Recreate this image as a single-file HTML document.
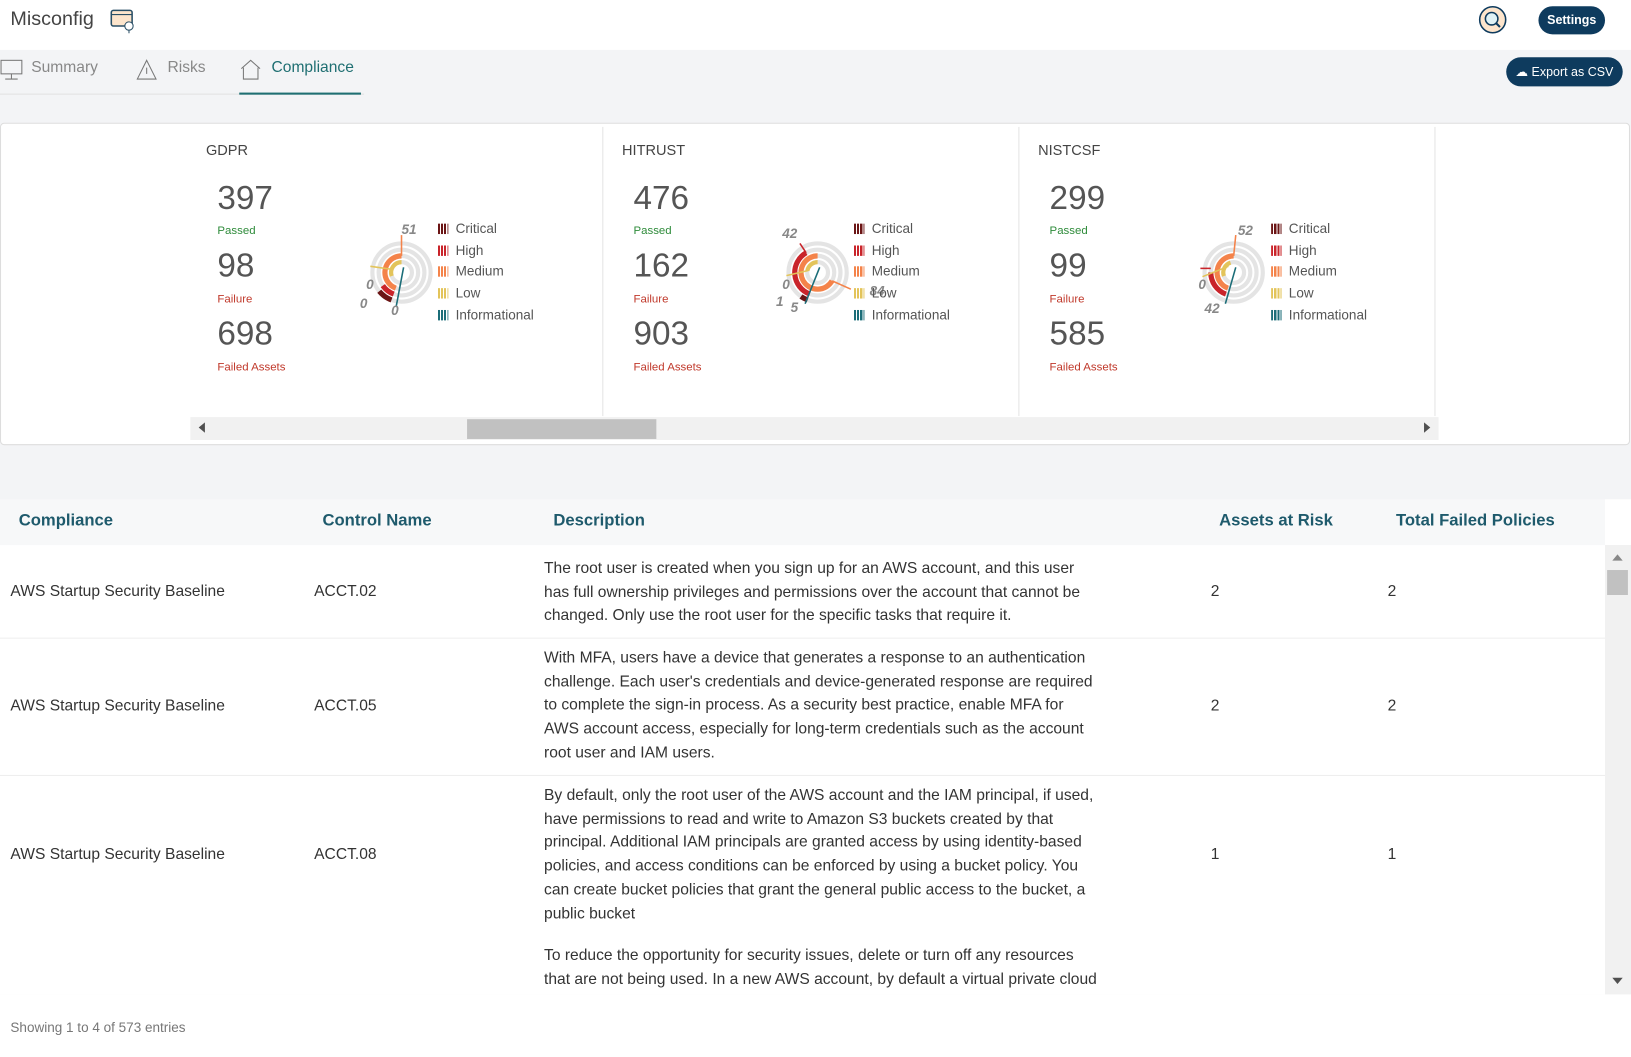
<!DOCTYPE html>
<html><head><meta charset="utf-8">
<style>
*{box-sizing:border-box;margin:0;padding:0}
html,body{width:1631px;height:1055px;overflow:hidden;background:#fff;font-family:"Liberation Sans",sans-serif;color:#333}
#w{position:absolute;left:0;top:0;width:1568px;height:1015px;transform:scale(1.0402);transform-origin:0 0;background:#f3f4f6}
.a{position:absolute;white-space:nowrap}
.hdr{position:absolute;left:0;top:0;width:1568px;height:48px;background:#fff}
.btn{position:absolute;background:#0e3b5e;color:#fff;font-weight:bold;border-radius:14px;font-size:12px;text-align:center}
.tab{position:absolute;top:56px;font-size:15px;color:#888}
.card{position:absolute;left:0;top:118px;width:1567px;height:310px;background:#fff;border:1px solid #ddd;border-radius:4px}
.big{position:absolute;font-size:32px;color:#555}
.sm{position:absolute;font-size:11px}
.leg{position:absolute;font-size:13px;color:#555}
.sw{display:inline-block;width:10px;height:10px;margin-right:7px;vertical-align:-1px}
.th{position:absolute;top:492px;font-size:16px;font-weight:bold;color:#1e5a6c}
.td{position:absolute;font-size:15px;color:#333;line-height:22.7px}
.desc{position:absolute;left:523px;width:532px;font-size:15px;line-height:22.7px;color:#333}
</style></head><body><div id="w">
<div class="hdr"></div>
<div class="a" style="left:10px;top:8px;font-size:19px;color:#444">Misconfig</div>
<svg class="a" style="left:106px;top:9px" width="26" height="24"><rect x="1" y="1" width="20" height="15" rx="2" fill="#fde5cc" stroke="#2a4f66" stroke-width="1.5"/><line x1="1" y1="5" x2="21" y2="5" stroke="#2a4f66"/><circle cx="18" cy="16" r="4" fill="#fff" stroke="#2a4f66"/><line x1="18" y1="20" x2="18" y2="23" stroke="#2a4f66"/></svg>
<svg class="a" style="left:1421px;top:5px" width="28" height="28"><circle cx="14" cy="14" r="12.5" fill="#fde5cc" stroke="#0e3b5e" stroke-width="1.5"/><circle cx="13" cy="13" r="6" fill="#e0f2f5" stroke="#0e3b5e" stroke-width="1.5"/><line x1="17" y1="17" x2="21" y2="21" stroke="#0e3b5e" stroke-width="2"/></svg>
<div class="btn" style="left:1479px;top:6px;width:64px;height:27px;line-height:27px">Settings</div>
<div class="btn" style="left:1448px;top:55px;width:112px;height:28px;line-height:28px;font-weight:normal">☁ Export as CSV</div>
<div class="a" style="left:0;top:90px;width:350px;height:1px;background:#e2e2e2"></div>
<svg class="a" style="left:0;top:57px" width="22" height="20"><rect x="1" y="1" width="20" height="13" fill="none" stroke="#777"/><line x1="11" y1="14" x2="11" y2="19" stroke="#777"/><line x1="5" y1="19" x2="17" y2="19" stroke="#777"/></svg>
<div class="tab" style="left:30px">Summary</div>
<svg class="a" style="left:131px;top:56px" width="20" height="22"><path d="M10 2 L19 20 L1 20 Z" fill="none" stroke="#777"/><line x1="10" y1="9" x2="10" y2="15" stroke="#777"/></svg>
<div class="tab" style="left:161px">Risks</div>
<svg class="a" style="left:230px;top:56px" width="22" height="22"><path d="M2 10 L11 2 L20 10 M4 9 V20 H18 V9" fill="none" stroke="#777"/></svg>
<div class="tab" style="left:261px;color:#1f6f72">Compliance</div>
<div class="a" style="left:230px;top:89px;width:117px;height:2px;background:#1f6f72"></div>

<div class="card"></div>
<div class="a" style="left:579px;top:122px;width:1px;height:278px;background:#e4e4e4"></div>
<div class="a" style="left:979px;top:122px;width:1px;height:278px;background:#e4e4e4"></div>
<div class="a" style="left:1379px;top:122px;width:1px;height:278px;background:#e4e4e4"></div>

<div class="a" style="left:198px;top:136px;font-size:14px;color:#444">GDPR</div>
<div class="big" style="left:209px;top:172px">397</div><div class="sm" style="left:209px;top:216px;color:#2e8b3a">Passed</div>
<div class="big" style="left:209px;top:237px">98</div><div class="sm" style="left:209px;top:282px;color:#c0392b">Failure</div>
<div class="big" style="left:209px;top:302px">698</div><div class="sm" style="left:209px;top:347px;color:#c0392b">Failed Assets</div>
<div class="a" style="left:598px;top:136px;font-size:14px;color:#444">HITRUST</div>
<div class="big" style="left:609px;top:172px">476</div><div class="sm" style="left:609px;top:216px;color:#2e8b3a">Passed</div>
<div class="big" style="left:609px;top:237px">162</div><div class="sm" style="left:609px;top:282px;color:#c0392b">Failure</div>
<div class="big" style="left:609px;top:302px">903</div><div class="sm" style="left:609px;top:347px;color:#c0392b">Failed Assets</div>
<div class="a" style="left:998px;top:136px;font-size:14px;color:#444">NISTCSF</div>
<div class="big" style="left:1009px;top:172px">299</div><div class="sm" style="left:1009px;top:216px;color:#2e8b3a">Passed</div>
<div class="big" style="left:1009px;top:237px">99</div><div class="sm" style="left:1009px;top:282px;color:#c0392b">Failure</div>
<div class="big" style="left:1009px;top:302px">585</div><div class="sm" style="left:1009px;top:347px;color:#c0392b">Failed Assets</div>

<svg class="a" style="left:0;top:0" width="1568" height="430" font-family="Liberation Sans" font-style="italic" font-weight="bold" font-size="13" fill="#888">
<g transform="translate(386,262)" fill="none">
<circle r="10" stroke="#e4e4e4" stroke-width="4"/><circle r="16" stroke="#e4e4e4" stroke-width="4"/><circle r="22" stroke="#e4e4e4" stroke-width="4"/><circle r="28" stroke="#e4e4e4" stroke-width="4"/>
<path d="M-5.5,15 A16,16 0 0 1 0,-16" stroke="#f4834a" stroke-width="5"/>
<path d="M-9.4,3.4 A10,10 0 0 1 0,-10" stroke="#e3c45a" stroke-width="4"/>
<path d="M-7.5,20.7 A22,22 0 0 1 -18,12.6" stroke="#c9242a" stroke-width="5"/>
<path d="M-9.6,26.3 A28,28 0 0 1 -21.4,18" stroke="#6b1515" stroke-width="5"/>
<line x1="0" y1="-16" x2="0" y2="-36" stroke="#f4834a" stroke-width="1.5"/>
<line x1="-9" y1="-3" x2="-30" y2="-6" stroke="#e3c45a" stroke-width="1.5"/>
<line x1="2" y1="-5" x2="-5" y2="32" stroke="#1b6d78" stroke-width="1.5"/>
<text x="0" y="-37" stroke="none" fill="#888">51</text><text x="-34" y="16" stroke="none" fill="#888">0</text><text x="-40" y="34" stroke="none" fill="#888">0</text><text x="-10" y="41" stroke="none" fill="#888">0</text>
</g>
<g transform="translate(786,262)" fill="none">
<circle r="10" stroke="#e4e4e4" stroke-width="4"/><circle r="16" stroke="#e4e4e4" stroke-width="4"/><circle r="22" stroke="#e4e4e4" stroke-width="4"/><circle r="28" stroke="#e4e4e4" stroke-width="4"/>
<path d="M13.9,8 A16,16 0 1 1 0,-16" stroke="#f4834a" stroke-width="5"/>
<path d="M-7.5,20.7 A22,22 0 0 1 -11,-19" stroke="#c9242a" stroke-width="5"/>
<path d="M-9.8,-1.7 A10,10 0 0 1 0,-10" stroke="#e3c45a" stroke-width="4"/>
<path d="M-9.6,26.3 A28,28 0 0 1 -16,23" stroke="#6b1515" stroke-width="5"/>
<line x1="14" y1="8" x2="32" y2="16" stroke="#f4834a" stroke-width="1.5"/>
<line x1="-11" y1="-19" x2="-17" y2="-28" stroke="#c9242a" stroke-width="1.5"/>
<line x1="-9" y1="-2" x2="-30" y2="3" stroke="#e3c45a" stroke-width="1.5"/>
<line x1="2" y1="-5" x2="-12" y2="30" stroke="#1b6d78" stroke-width="1.5"/>
<text x="-34" y="-33" stroke="none" fill="#888">42</text><text x="-34" y="16" stroke="none" fill="#888">0</text><text x="-40" y="32" stroke="none" fill="#888">1</text><text x="-26" y="38" stroke="none" fill="#888">5</text><text x="50" y="22" stroke="none" fill="#888">84</text>
</g>
<g transform="translate(1186,262)" fill="none">
<circle r="10" stroke="#e4e4e4" stroke-width="4"/><circle r="16" stroke="#e4e4e4" stroke-width="4"/><circle r="22" stroke="#e4e4e4" stroke-width="4"/><circle r="28" stroke="#e4e4e4" stroke-width="4"/>
<path d="M-5.5,15 A16,16 0 0 1 0,-16" stroke="#f4834a" stroke-width="5"/>
<path d="M-7.5,20.7 A22,22 0 0 1 -22,0" stroke="#c9242a" stroke-width="5"/>
<path d="M-9.4,3.4 A10,10 0 0 1 -3,-9.5" stroke="#e3c45a" stroke-width="4"/>
<line x1="0" y1="-16" x2="2" y2="-36" stroke="#f4834a" stroke-width="1.5"/>
<line x1="-22" y1="-4" x2="-32" y2="-4" stroke="#c9242a" stroke-width="1.5"/>
<line x1="-5" y1="-6" x2="-30" y2="4" stroke="#e3c45a" stroke-width="1.5"/>
<line x1="2" y1="-5" x2="-8" y2="30" stroke="#1b6d78" stroke-width="1.5"/>
<text x="4" y="-36" stroke="none" fill="#888">52</text><text x="-34" y="16" stroke="none" fill="#888">0</text><text x="-28" y="39" stroke="none" fill="#888">42</text>
</g>
</svg>
<div class="leg" style="left:421px;top:210px;line-height:20.7px"><div><span class="sw" style="background:repeating-linear-gradient(90deg,#6b1515 0 2px,#fff 2px 3px)"></span>Critical</div><div><span class="sw" style="background:repeating-linear-gradient(90deg,#c9242a 0 2px,#fff 2px 3px)"></span>High</div><div><span class="sw" style="background:repeating-linear-gradient(90deg,#f4834a 0 2px,#fff 2px 3px)"></span>Medium</div><div><span class="sw" style="background:repeating-linear-gradient(90deg,#e3c45a 0 2px,#fff 2px 3px)"></span>Low</div><div><span class="sw" style="background:repeating-linear-gradient(90deg,#1b6d78 0 2px,#fff 2px 3px)"></span>Informational</div></div>
<div class="leg" style="left:821px;top:210px;line-height:20.7px"><div><span class="sw" style="background:repeating-linear-gradient(90deg,#6b1515 0 2px,#fff 2px 3px)"></span>Critical</div><div><span class="sw" style="background:repeating-linear-gradient(90deg,#c9242a 0 2px,#fff 2px 3px)"></span>High</div><div><span class="sw" style="background:repeating-linear-gradient(90deg,#f4834a 0 2px,#fff 2px 3px)"></span>Medium</div><div><span class="sw" style="background:repeating-linear-gradient(90deg,#e3c45a 0 2px,#fff 2px 3px)"></span>Low</div><div><span class="sw" style="background:repeating-linear-gradient(90deg,#1b6d78 0 2px,#fff 2px 3px)"></span>Informational</div></div>
<div class="leg" style="left:1222px;top:210px;line-height:20.7px"><div><span class="sw" style="background:repeating-linear-gradient(90deg,#6b1515 0 2px,#fff 2px 3px)"></span>Critical</div><div><span class="sw" style="background:repeating-linear-gradient(90deg,#c9242a 0 2px,#fff 2px 3px)"></span>High</div><div><span class="sw" style="background:repeating-linear-gradient(90deg,#f4834a 0 2px,#fff 2px 3px)"></span>Medium</div><div><span class="sw" style="background:repeating-linear-gradient(90deg,#e3c45a 0 2px,#fff 2px 3px)"></span>Low</div><div><span class="sw" style="background:repeating-linear-gradient(90deg,#1b6d78 0 2px,#fff 2px 3px)"></span>Informational</div></div>

<div class="a" style="left:183px;top:401px;width:1200px;height:22px;background:#f1f1f1"></div>
<div class="a" style="left:449px;top:403px;width:182px;height:19px;background:#c1c1c1"></div>
<div class="a" style="left:191px;top:406px;width:0;height:0;border-top:5px solid transparent;border-bottom:5px solid transparent;border-right:6px solid #505050"></div>
<div class="a" style="left:1369px;top:406px;width:0;height:0;border-top:5px solid transparent;border-bottom:5px solid transparent;border-left:6px solid #505050"></div>

<div class="a" style="left:0;top:480px;width:1543px;height:45px;background:#f7f8f9"></div>
<div class="a" style="left:0;top:524px;width:1543px;height:432px;background:#fff"></div>
<div class="a" style="left:1543px;top:480px;width:25px;height:44px;background:#fff"></div>
<div class="th" style="left:18px">Compliance</div>
<div class="th" style="left:310px">Control Name</div>
<div class="th" style="left:532px">Description</div>
<div class="th" style="left:1172px">Assets at Risk</div>
<div class="th" style="left:1342px">Total Failed Policies</div>
<div class="a" style="left:0;top:613px;width:1543px;height:1px;background:#eee"></div>
<div class="a" style="left:0;top:745px;width:1543px;height:1px;background:#eee"></div>

<div class="td" style="left:10px;top:558px">AWS Startup Security Baseline</div><div class="td" style="left:302px;top:558px">ACCT.02</div>
<div class="desc" style="top:536px">The root user is created when you sign up for an AWS account, and this user has full ownership privileges and permissions over the account that cannot be changed. Only use the root user for the specific tasks that require it.</div>
<div class="td" style="left:1164px;top:558px">2</div><div class="td" style="left:1334px;top:558px">2</div>

<div class="td" style="left:10px;top:668px">AWS Startup Security Baseline</div><div class="td" style="left:302px;top:668px">ACCT.05</div>
<div class="desc" style="top:622px">With MFA, users have a device that generates a response to an authentication challenge. Each user's credentials and device-generated response are required to complete the sign-in process. As a security best practice, enable MFA for AWS account access, especially for long-term credentials such as the account root user and IAM users.</div>
<div class="td" style="left:1164px;top:668px">2</div><div class="td" style="left:1334px;top:668px">2</div>

<div class="td" style="left:10px;top:811px">AWS Startup Security Baseline</div><div class="td" style="left:302px;top:811px">ACCT.08</div>
<div class="desc" style="top:754px">By default, only the root user of the AWS account and the IAM principal, if used, have permissions to read and write to Amazon S3 buckets created by that principal. Additional IAM principals are granted access by using identity-based policies, and access conditions can be enforced by using a bucket policy. You can create bucket policies that grant the general public access to the bucket, a public bucket</div>
<div class="td" style="left:1164px;top:811px">1</div><div class="td" style="left:1334px;top:811px">1</div>

<div class="desc" style="top:908px;height:47px;overflow:hidden">To reduce the opportunity for security issues, delete or turn off any resources that are not being used. In a new AWS account, by default a virtual private cloud is created.</div>

<div class="a" style="left:1543px;top:524px;width:25px;height:432px;background:#f1f1f1"></div>
<div class="a" style="left:1545px;top:548px;width:20px;height:24px;background:#c1c1c1"></div>
<div class="a" style="left:1550px;top:533px;border-left:5px solid transparent;border-right:5px solid transparent;border-bottom:6px solid #888"></div>
<div class="a" style="left:1550px;top:940px;border-left:5px solid transparent;border-right:5px solid transparent;border-top:6px solid #505050"></div>

<div class="a" style="left:0;top:956px;width:1568px;height:60px;background:#fff"></div>
<div class="a" style="left:10px;top:980px;font-size:13px;color:#777">Showing 1 to 4 of 573 entries</div>
</div></body></html>
